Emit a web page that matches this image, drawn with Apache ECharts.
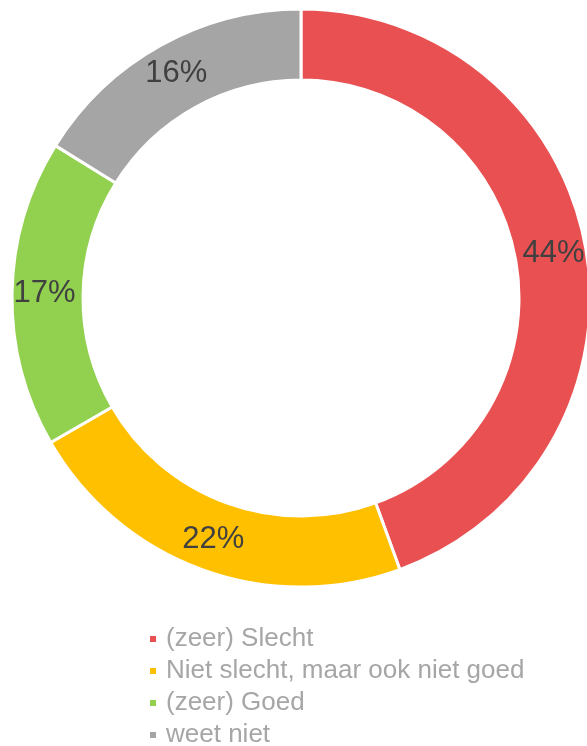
<!DOCTYPE html>
<html>
<head>
<meta charset="utf-8">
<script src="https://cdn.jsdelivr.net/npm/echarts@6/dist/echarts.min.js"></script>
<style>
  html, body { margin: 0; padding: 0; background: #fff; }
  #donut_chart { width: 587px; height: 746px; }
</style>
</head>
<body>
<div id="donut_chart"></div>
<script>
// answers and their share, in percent
var categories = ['(zeer) Slecht', 'Niet slecht, maar ook niet goed', '(zeer) Goed', 'weet niet'];
var shares = [44, 22, 17, 16];
var colors = ['#E95051', '#FFC000', '#92D050', '#A5A5A5'];

var myDonutChart = echarts.init(document.getElementById('donut_chart'));

showDonutChart()

function showDonutChart(){
	var option = getDonutOption()
	myDonutChart.setOption(option);
}

function getDonutOption(){
	var pieData = categories.map(function (name, i) {
		return { name: name, value: shares[i], itemStyle: { color: colors[i] } };
	});
	var option = {
		backgroundColor: '#ffffff',
		animation: false,
		textStyle: {
			fontFamily: 'Liberation Sans, Arial, sans-serif'
		},
		legend: {
			orient: 'vertical',
			left: 148,
			top: 626,
			height: 200,
			padding: 0,
			itemWidth: 8,
			itemHeight: 8,
			itemGap: 6,
			icon: 'rect',
			data: categories,
			textStyle: {
				color: '#A6A6A6',
				fontSize: 26,
				lineHeight: 26,
				padding: [0, 0, 0, 4]
			}
		},
		series: [
			{
				name: 'oordeel',
				type: 'pie',
				center: [301, 298],
				radius: [218, 289],
				startAngle: 90,
				clockwise: true,
				avoidLabelOverlap: false,
				itemStyle: {
					borderColor: '#ffffff',
					borderWidth: 3
				},
				label: {
					show: true,
					position: 'inside',
					formatter: '{c}%',
					color: '#404040',
					fontSize: 31,
					fontFamily: 'Liberation Sans, Arial, sans-serif'
				},
				labelLine: { show: false },
				emphasis: { disabled: true },
				data: pieData
			}
		]
	}
	return option
}
</script>
</body>
</html>
